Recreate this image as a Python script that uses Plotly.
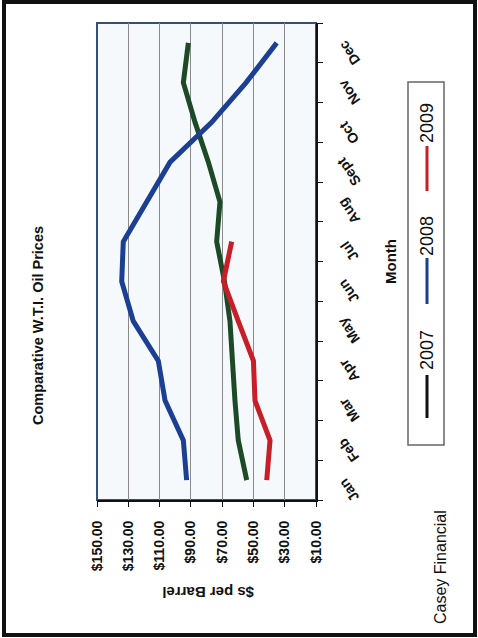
import plotly.graph_objects as go

months = ["Jan", "Feb", "Mar", "Apr", "May", "Jun", "Jul", "Aug", "Sept", "Oct", "Nov", "Dec"]
p2007 = [54.3, 59.7, 61.8, 63.3, 65.0, 68.5, 73.5, 71.4, 78.8, 87.3, 94.8, 91.6]
p2008 = [92.7, 94.8, 106.5, 110.8, 126.8, 134.2, 133.2, 117.8, 103.3, 76.7, 54.7, 35.1]
p2009 = [41.5, 39.4, 49.0, 50.0, 59.7, 69.2, 63.9]
series_names = ["2007", "2008", "2009"]
series_colors = ["#1d4a26", "#1b3f93", "#c81e28"]
legend_colors = ["#111111", "#1b3f93", "#c81e28"]
price_ticks = [150, 130, 110, 90, 70, 50, 30, 10]
price_labels = ["$%.2f" % v for v in price_ticks]

W, H = 478, 638
L, R, T, B = 97, 316, 23, 500
FONT = "Liberation Sans, Arial, sans-serif"


def px(x):
    return (x - L) / (R - L)


def py(y):
    return (B - y) / (B - T)


fig = go.Figure()
for name, vals, col in zip(series_names, [p2007, p2008, p2009], series_colors):
    fig.add_trace(go.Scatter(
        x=vals, y=months[:len(vals)], mode="lines", name=name,
        line=dict(color=col, width=5), showlegend=False))

shapes = [
    dict(type="rect", xref="paper", yref="paper", x0=0, y0=0, x1=1, y1=1,
         line=dict(color="#34507a", width=2), layer="below"),
    dict(type="rect", xref="paper", yref="paper", x0=px(4), y0=py(2), x1=px(475), y1=py(635),
         line=dict(color="#111111", width=4)),
    dict(type="rect", xref="paper", yref="paper", x0=px(408), y0=py(82), x1=px(444), y1=py(445),
         line=dict(color="#666666", width=1.5), fillcolor="white"),
]
annotations = [
    dict(text="<b>Comparative W.T.I. Oil Prices</b>", x=px(38), y=py(326), textangle=-90,
         font=dict(size=14.5, color="#111", family=FONT)),
    dict(text="<b>Month</b>", x=px(390), y=py(262), textangle=-90,
         font=dict(size=15, color="#111", family=FONT)),
    dict(text="<b>$s per Barrel</b>", x=px(208), y=py(593), textangle=180,
         font=dict(size=15, color="#111", family=FONT)),
    dict(text="Casey Financial", x=px(440), y=py(567), textangle=-90,
         font=dict(size=16, color="#111", family=FONT)),
]
leg_line = [(375, 418), (258, 304), (146, 191)]
leg_text = [350, 236, 123]
for name, lc, (a, b), ty in zip(series_names, legend_colors, leg_line, leg_text):
    shapes.append(dict(type="line", xref="paper", yref="paper", x0=px(427), x1=px(427),
                       y0=py(a), y1=py(b), line=dict(color=lc, width=3)))
    annotations.append(dict(text=name, x=px(427), y=py(ty), textangle=-90,
                            font=dict(size=18, color="#111", family=FONT)))
for a in annotations:
    a.update(xref="paper", yref="paper", showarrow=False, xanchor="center", yanchor="middle")
# month tick labels (slanted, as in the rotated original)
for m in months:
    annotations.append(dict(text="<b>%s</b>" % m, xref="paper", yref="y", x=px(349), y=m,
                            yshift=-10, textangle=-125, showarrow=False,
                            xanchor="center", yanchor="middle",
                            font=dict(size=14, color="#111", family=FONT)))

fig.update_layout(
    width=W, height=H,
    margin=dict(l=L, r=W - R, t=T, b=H - B),
    paper_bgcolor="white", plot_bgcolor="#f5f9fc",
    font=dict(family=FONT, color="#111"),
    shapes=shapes, annotations=annotations,
    xaxis=dict(range=[150, 10], tickvals=price_ticks, ticktext=price_labels, tickangle=-90,
               showgrid=True, gridcolor="#8a8a8a", gridwidth=1, zeroline=False,
               showline=True, linecolor="#111", linewidth=2, ticks="outside", ticklen=5,
               tickcolor="#111", tickfont=dict(size=14, weight="bold", family=FONT),
               ticklabelstandoff=8),
    yaxis=dict(type="category", categoryorder="array", categoryarray=months, side="right",
               range=[-0.5, 11.5], showgrid=False, showline=True, linecolor="#111", linewidth=2,
               ticks="outside", tickson="boundaries", ticklen=5, tickcolor="#111",
               showticklabels=False),
)
fig.write_html("out.html", config={"displayModeBar": False},
               post_script="document.body.style.margin='0';document.body.style.padding='0';")
